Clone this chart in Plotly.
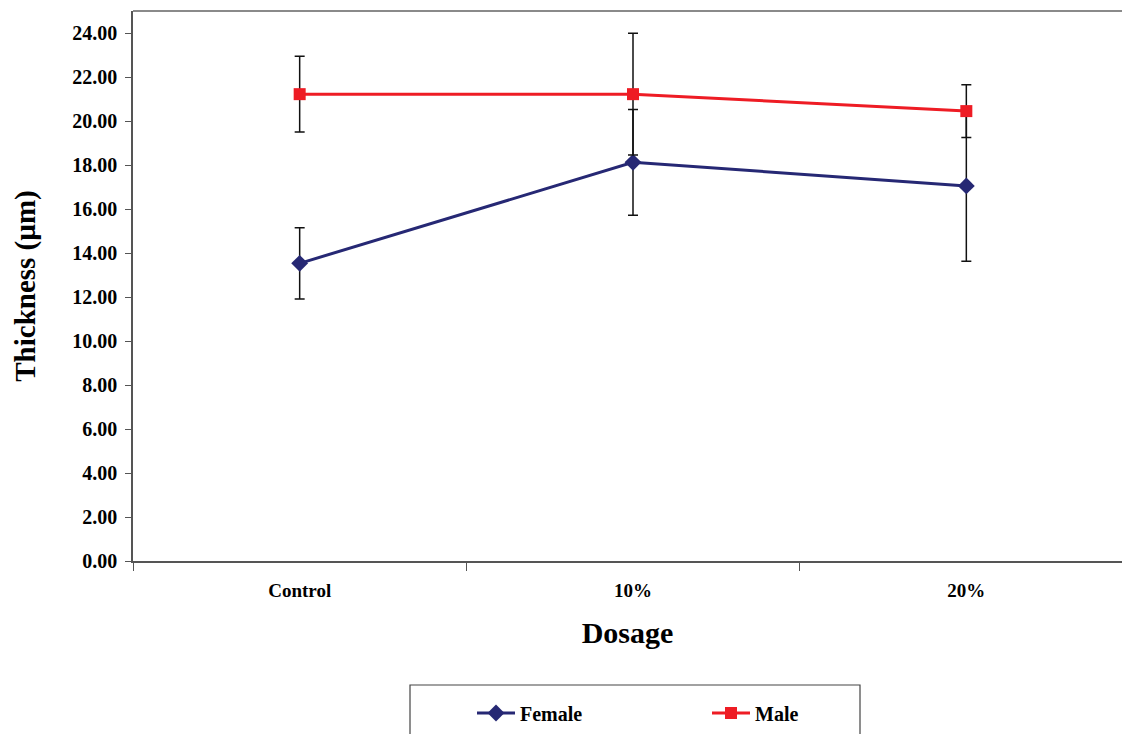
import plotly.graph_objects as go

categories = ["Control", "10%", "20%"]
female_mean = [13.53, 18.12, 17.05]
female_err = [1.62, 2.40, 3.42]
male_mean = [21.22, 21.22, 20.45]
male_err = [1.72, 2.77, 1.20]
y_ticks = [0, 2, 4, 6, 8, 10, 12, 14, 16, 18, 20, 22, 24]

FONT = "Liberation Serif, Times New Roman, serif"
W, H = 1122, 734
L, R, T, B = 133, 0, 11, 173
pw = W - L - R
ph = H - T - B

def px_x(p):
    return (p - L) / pw

def px_y(p):
    return (H - B - p) / ph

fig = go.Figure()
fig.add_trace(go.Scatter(
    x=categories, y=female_mean, name="Female", mode="lines+markers",
    line=dict(color="#262874", width=3),
    marker=dict(symbol="diamond", size=13, color="#262874"),
    error_y=dict(type="data", array=female_err, color="#111111", thickness=1.5, width=5),
))
fig.add_trace(go.Scatter(
    x=categories, y=male_mean, name="Male", mode="lines+markers",
    line=dict(color="#EE1C24", width=3),
    marker=dict(symbol="square", size=12, color="#EE1C24"),
    error_y=dict(type="data", array=male_err, color="#111111", thickness=1.5, width=5),
))

# legend box (bottom cut off like reference)
fig.add_shape(type="rect", xref="paper", yref="paper",
              x0=px_x(410), x1=px_x(860), y0=px_y(760), y1=px_y(685),
              line=dict(color="#444444", width=1.2), fillcolor="rgba(0,0,0,0)")
# top border of plot area
fig.add_shape(type="line", xref="paper", yref="paper",
              x0=0, x1=1, y0=1, y1=1, line=dict(color="#8a8a8a", width=2))

fig.update_layout(
    width=W, height=H,
    margin=dict(l=L, r=R, t=T, b=B, autoexpand=False),
    paper_bgcolor="white", plot_bgcolor="white",
    font=dict(family=FONT, color="black"),
    showlegend=True,
    legend=dict(orientation="h", x=px_x(472), y=px_y(713), xanchor="left", yanchor="middle",
                font=dict(family=FONT, size=20, weight="bold", color="black"),
                itemwidth=38, entrywidth=182,
                bgcolor="rgba(0,0,0,0)", borderwidth=0),
    xaxis=dict(
        type="category", range=[-0.5, 2.467], tickson="boundaries",
        showline=True, linecolor="#555555", linewidth=2,
        ticks="outside", ticklen=8, tickcolor="#555555", tickwidth=1,
        tickfont=dict(family=FONT, size=19, weight="bold", color="black"),
        ticklabelstandoff=11,
        showgrid=False, zeroline=False,
        title=dict(text="Dosage", font=dict(family=FONT, size=30, weight="bold", color="black"),
                   standoff=22),
        automargin=False,
    ),
    yaxis=dict(
        range=[0, 25], tickvals=y_ticks, tickformat=".2f",
        showline=True, linecolor="#555555", linewidth=1.5,
        ticks="outside", ticklen=6, tickcolor="#555555", tickwidth=1,
        tickfont=dict(family=FONT, size=20, weight="bold", color="black"),
        ticklabelstandoff=4,
        showgrid=False, zeroline=False,
        title=dict(text="Thickness (µm)", font=dict(family=FONT, size=29, weight="bold", color="black"),
                   standoff=28),
        automargin=False,
    ),
)

fig.write_html("out.html", config={"displayModeBar": False},
               post_script="document.body.style.margin='0';document.body.style.overflow='hidden';")
